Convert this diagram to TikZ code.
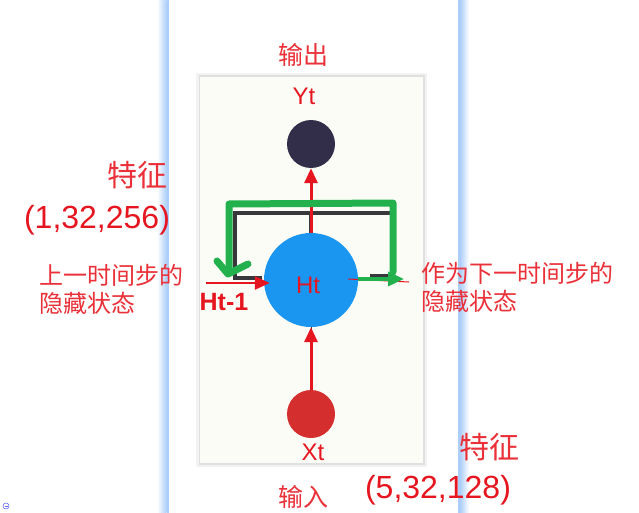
\documentclass[tikz,border=0pt]{standalone}
\usepackage{fontspec}
\setmainfont{Liberation Sans}
\newfontfamily\cjk{Noto Sans CJK SC}
\usetikzlibrary{arrows.meta}
\definecolor{txtred}{RGB}{234,48,56}
\definecolor{numred}{RGB}{230,22,32}
\definecolor{panel}{RGB}{252,252,246}
\definecolor{hblue}{RGB}{26,150,240}
\definecolor{ydark}{RGB}{50,45,72}
\definecolor{xred}{RGB}{212,46,46}
\definecolor{gline}{RGB}{34,177,76}
\definecolor{vblue}{RGB}{172,206,250}
\definecolor{loopdark}{RGB}{55,55,60}
\begin{document}
\begin{tikzpicture}[x=1pt,y=-1pt,
  cn/.style={font=\cjk\fontsize{#1}{#1}\selectfont, text=txtred, inner sep=0pt},
  num/.style={font=\fontsize{#1}{#1}\selectfont, text=numred, inner sep=0pt},
  lbl/.style={font=\fontsize{#1}{#1}\selectfont, text=numred, inner sep=0pt},
  unit/.style={circle, inner sep=0pt, minimum size=#1},
  redarrow/.style={draw=numred, line width=3pt, -{Triangle[length=15pt,width=13pt]}},
  greenarrow/.style={draw=gline, line width=3.5pt, -{Triangle[length=16pt,width=14pt]}},
  gpath/.style={draw=gline, line width=7pt, line cap=round, line join=round},
  loopline/.style={draw=loopdark, line width=3.5pt}]
\useasboundingbox (0,0) rectangle (639,513);
\fill[white] (0,0) rectangle (639,513);
% vertical guide lines
\shade[left color=white, right color=vblue] (157,0) rectangle (166.5,513);
\fill[vblue] (166.5,0) rectangle (168.5,513);
\fill[vblue] (458,0) rectangle (460,513);
\shade[left color=vblue, right color=white] (460,0) rectangle (469,513);
% panel
\fill[black!5] (196,73) rectangle (427,467);
\fill[black!12] (198.5,75.5) rectangle (424.5,464.5);
\fill[panel] (200,77) rectangle (423,463);
% units
\node[unit=94pt, fill=hblue] (ht) at (311,280) {};
\node[unit=48pt, fill=ydark] (yt) at (311,144) {};
\node[unit=48pt, fill=xred] (xt) at (311,414) {};
% black loop
\coordinate (lt) at (235,213);
\coordinate (rt) at (392,213);
\draw[loopline] (ht.north) -- (311,213) -- (lt) -- (235,278) -- (262,278);
\draw[loopline] (311,213) -- (rt) -- (392,276) -- (370,276);
% arrows
\draw[draw=loopdark, line width=1pt] (xt.north) -- (ht.south);
\draw[redarrow] (xt.north) -- (ht.south);
\draw[redarrow] (ht.north) -- (yt.south);
\coordinate (hin) at (206,283);
\draw[redarrow, line width=2.5pt, shorten >=-6pt] (hin) -- (hin -| ht.west);
\coordinate (hout) at (404,279);
\draw[numred, line width=1pt] ([xshift=-10pt,yshift=1pt]ht.east) -- (409,282);
\draw[greenarrow] ([yshift=1pt]ht.east) -- (hout);
% green hand-drawn loop
\draw[gpath] (229,271) -- (229,204) -- (393,203) -- (393,272);
\draw[gpath] (217,261) -- (228,274) -- (248,264);
% labels in units
\node[lbl=24] (htl) at (308,285) {Ht};
\node[lbl=24] (ytl) at (304,96) {Yt};
\node[lbl=24] (xtl) at (313,452) {Xt};
\node[lbl=25, font=\bfseries\fontsize{25}{25}\selectfont] (htm) at (224,302) {Ht-1};
% Chinese labels
\node[cn=25] (out) at (303,55) {输出};
\node[cn=25] (inp) at (303,497) {输入};
\node[cn=24, anchor=west] (prev1) at (39,275) {上一时间步的};
\node[cn=24, anchor=west] (prev2) at (39,303) {隐藏状态};
\node[cn=24, anchor=west] (next1) at (421,273) {作为下一时间步的};
\node[cn=24, anchor=west] (next2) at (421,301) {隐藏状态};
\node[cn=30] (f1) at (137,175) {特征};
\node[num=32] (s1) at (97,220) {(1,32,256)};
\node[cn=30] (f2) at (489,447) {特征};
\node[num=32] (s2) at (438,490) {(5,32,128)};
% small icon
\draw[blue!60, line width=0.6pt] (6,506) circle (3);
\draw[blue!60, line width=0.6pt] (4.5,506) -- (7.5,506);
\end{tikzpicture}
\end{document}
